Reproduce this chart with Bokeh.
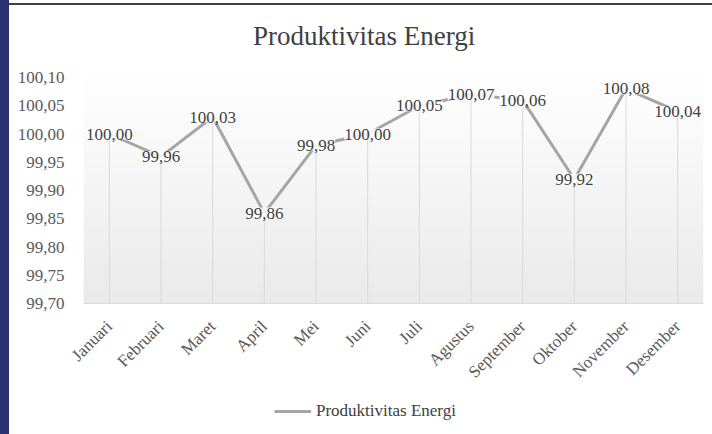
import numpy as np
from bokeh.plotting import figure
from bokeh.layouts import column, row
from bokeh.models import (ColumnDataSource, FixedTicker, CustomJSTickFormatter, LabelSet,
                          Legend, LegendItem, Range1d, Div)
from bokeh.embed import file_html
from bokeh.resources import INLINE

# ---- data ----
months = ["Januari", "Februari", "Maret", "April", "Mei", "Juni", "Juli",
          "Agustus", "September", "Oktober", "November", "Desember"]
values = [100.00, 99.96, 100.03, 99.86, 99.98, 100.00, 100.05,
          100.07, 100.06, 99.92, 100.08, 100.04]
y_ticks = [99.70, 99.75, 99.80, 99.85, 99.90, 99.95, 100.00, 100.05, 100.10]
series_name = "Produktivitas Energi"
chart_title = "Produktivitas Energi"

FONT = "Liberation Serif"
LINE_COLOR = "#a5a5a5"
y_min, y_max = y_ticks[0], y_ticks[-1]

xs = list(range(len(months)))
src = ColumnDataSource(dict(
    x=xs, y=values, base=[y_min] * len(values),
    label=[f"{v:.2f}".replace(".", ",") for v in values],
))

# ---- title block (with the dark rule at the top) ----
title_div = Div(
    text=('<div style="height:3px"></div>'
          '<div style="height:2px;width:703px;background:#404040"></div>'
          f'<div style="padding:16px 0 0 244px;font-family:\'{FONT}\';font-size:27px;'
          f'line-height:30px;color:#404040;white-space:nowrap">{chart_title}</div>'),
    width=703, height=60, margin=0)

# ---- main chart ----
p = figure(frame_width=620, frame_height=226, min_border_left=74, min_border_right=1,
           min_border_top=17, min_border_bottom=87, title=None,
           x_range=Range1d(-0.5, len(months) - 0.5), y_range=Range1d(y_min, y_max),
           output_backend="svg", toolbar_location=None, margin=0,
           background_fill_color="white", border_fill_color="white")
p.outline_line_color = None
p.grid.visible = False

# gradient plot-area background
n = 200
top = np.array([255, 255, 255], dtype=float)
bot = np.array([234, 234, 234], dtype=float)
t = np.linspace(0, 1, n)[:, None]
cols = (bot * (1 - t) + top * t).astype(np.uint32)  # row 0 = bottom
img = (255 << 24) | (cols[:, 2] << 16) | (cols[:, 1] << 8) | cols[:, 0]
img = img.reshape(n, 1).astype(np.uint32)
p.image_rgba(image=[img], x=-0.5, y=y_min, dw=len(months), dh=y_max - y_min, level="image")

# drop lines
p.segment(x0="x", y0="y", x1="x", y1="base", source=src, line_color="#d9d9d9", line_width=1)

# series line
p.line("x", "y", source=src, line_color=LINE_COLOR, line_width=3)

labels = LabelSet(x="x", y="y", text="label", source=src, text_align="center",
                  text_baseline="middle", text_font=FONT, text_font_size="17px",
                  text_color="#404040", background_fill_color="white",
                  background_fill_alpha=0.85)
p.add_layout(labels)

# axes
p.yaxis.ticker = FixedTicker(ticks=y_ticks)
p.yaxis.formatter = CustomJSTickFormatter(code="return tick.toFixed(2).replace('.', ',');")
p.yaxis.axis_line_color = None
p.yaxis.major_tick_line_color = None
p.yaxis.minor_tick_line_color = None
p.yaxis.major_label_standoff = 13
p.yaxis.major_label_text_font = FONT
p.yaxis.major_label_text_font_size = "17px"
p.yaxis.major_label_text_color = "#595959"

p.xaxis.ticker = FixedTicker(ticks=xs)
p.xaxis.major_label_overrides = {i: m for i, m in enumerate(months)}
p.xaxis.major_label_orientation = np.pi / 4
p.xaxis.axis_line_color = "#d9d9d9"
p.xaxis.major_tick_line_color = None
p.xaxis.minor_tick_line_color = None
p.xaxis.major_label_standoff = 14
p.xaxis.major_label_text_font = FONT
p.xaxis.major_label_text_font_size = "17px"
p.xaxis.major_label_text_color = "#595959"

# ---- legend strip ----
lf = figure(width=695, height=40, min_border_left=0, min_border_right=0,
            min_border_top=0, min_border_bottom=0, x_axis_type=None, y_axis_type=None,
            output_backend="svg", toolbar_location=None, margin=0, title=None,
            background_fill_color="white", border_fill_color="white")
lf.outline_line_color = None
lf.grid.visible = False
leg_line = lf.line(x=[np.nan], y=[np.nan], line_color=LINE_COLOR, line_width=3)
legend = Legend(items=[LegendItem(label=series_name, renderers=[leg_line])],
                location=(191, 10), orientation="horizontal",
                label_text_font=FONT, label_text_font_size="17px", label_text_color="#404040",
                glyph_width=37, glyph_height=20, label_standoff=5, padding=0, margin=0,
                border_line_color=None, background_fill_alpha=0)
lf.add_layout(legend, "center")

# ---- dark blue strip at the left edge ----
strip = Div(text="", width=9, height=434, margin=0,
            styles={"background-color": "#2b316d"})

layout = row(strip, column(title_div, p, lf, spacing=0), spacing=0)

open("out.html", "w").write(file_html(layout, INLINE))
